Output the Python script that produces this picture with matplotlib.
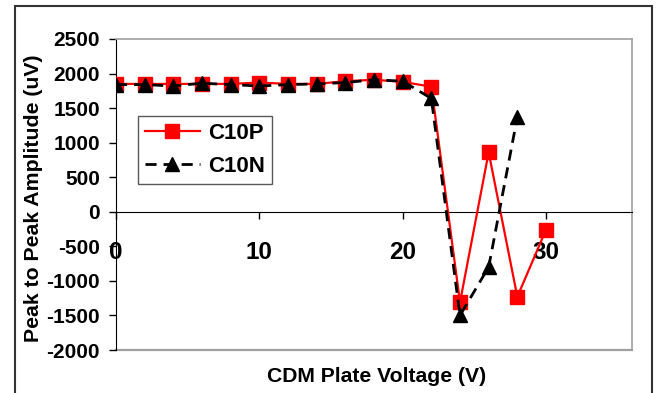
import matplotlib
matplotlib.use("Agg")
import matplotlib.pyplot as plt
from matplotlib.patches import Rectangle

# ── DATI ────────────────────────────────────────────────────
volt_p = [0, 2, 4, 6, 8, 10, 12, 14, 16, 18, 20, 22, 24, 26, 28, 30]
c10p = [1850, 1850, 1850, 1850, 1850, 1870, 1850, 1850, 1890, 1910, 1880,
        1810, -1310, 860, -1230, -260]

volt_n = [0, 2, 4, 6, 8, 10, 12, 14, 16, 18, 20, 22, 24, 26, 28]
c10n = [1840, 1840, 1820, 1860, 1840, 1820, 1840, 1850, 1870, 1910, 1890,
        1640, -1500, -800, 1370]

x_ticks = [0, 10, 20, 30]
y_ticks = [-2000, -1500, -1000, -500, 0, 500, 1000, 1500, 2000, 2500]
# ────────────────────────────────────────────────────────────

plt.rcParams["font.family"] = ["Liberation Sans", "DejaVu Sans"]
plt.rcParams["font.weight"] = "bold"
plt.rcParams["axes.unicode_minus"] = False

fig = plt.figure(figsize=(6.6, 3.93), dpi=100)
ax = fig.add_axes([116 / 660, 43 / 393, 516 / 660, 311 / 393])

ax.plot(volt_p, c10p, color="#ff0000", lw=1.6, marker="s", ms=9.5,
        mfc="#ff0000", mec="#ff0000", label="C10P", zorder=3)
ax.plot(volt_n, c10n, color="black", lw=2.0, ls=(0, (4, 2.5)), marker="^",
        ms=9.5, mfc="black", mec="black", label="C10N", zorder=4)

ax.set_xlim(0, 36)
ax.set_ylim(-2000, 2500)
ax.set_xticks(x_ticks)
ax.set_yticks(y_ticks)

# asse x che incrocia a zero, come Excel
ax.spines["bottom"].set_position(("data", 0))
ax.spines["bottom"].set_color("black")
ax.spines["left"].set_color("black")
for s in ("top", "right"):
    ax.spines[s].set_color("#a0a0a0")
    ax.spines[s].set_linewidth(1.2)
ax.plot([0, 1], [0, 0], transform=ax.transAxes, color="#a0a0a0", lw=1.6,
        clip_on=False, zorder=1)

ax.tick_params(axis="y", direction="out", length=5, width=1, labelsize=15, pad=6.5)
ax.tick_params(axis="x", direction="out", length=5, width=1, labelsize=17.5, pad=16)
for lab in ax.get_xticklabels() + ax.get_yticklabels():
    lab.set_fontweight("bold")

ax.set_xlabel("CDM Plate Voltage (V)", fontsize=15.2, fontweight="bold")
ax.xaxis.set_label_coords(0.505, -0.055)
ax.xaxis.label.set_va("top")
ax.set_ylabel("Peak to Peak Amplitude (uV)", fontsize=15.3, fontweight="bold")
ax.yaxis.set_label_coords(-0.142, 0.487)

leg = ax.legend(loc="upper left", bbox_to_anchor=(22 / 516, (350 - 116) / 311),
                fontsize=16, frameon=True, fancybox=False, handlelength=2.5,
                borderpad=0.3, labelspacing=0.55, handletextpad=0.35,
                borderaxespad=0)
leg.get_frame().set_edgecolor("#303030")
leg.get_frame().set_linewidth(1.0)
for t in leg.get_texts():
    t.set_fontweight("bold")

fig.patches.append(Rectangle((15 / 660, -0.05), 637 / 660, 1.05 - 6 / 393,
                             transform=fig.transFigure, fill=False,
                             edgecolor="#333333", lw=1.5))

fig.savefig("out.png", dpi=100)
